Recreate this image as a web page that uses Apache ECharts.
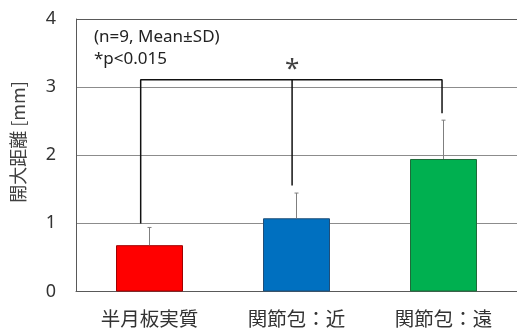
<!DOCTYPE html>
<html><head><meta charset="utf-8">
<script src="https://cdn.jsdelivr.net/npm/echarts@6/dist/echarts.min.js"></script>
<style>html,body{margin:0;padding:0;background:#fff}#c{width:517px;height:328px}</style>
</head><body><div id="c"></div>
<script>
const categories = ['半月板実質', '関節包：近', '関節包：遠'];
const means = [0.68, 1.075, 1.945];
const sds = [0.26, 0.37, 0.57];
const barColors = ['#FF0000', '#0070C0', '#00B050'];
const barBorders = ['#A00000', '#1F4E79', '#1E6B3A'];
const yTicks = [0, 1, 2, 3, 4];
// significance bracket (x in category units, y in mm)
const bracketLeft = [[-0.06, 0.997], [-0.06, 3.11], [1.99, 3.11], [1.99, 2.617]];
const bracketMid = [[0.97, 3.11], [0.97, 1.556]];
const starPos = [[0.97, 3.26]];
const notes = ['(n=9, Mean±SD)', '*p<0.015'];

const cjk = '"Noto Sans CJK JP", sans-serif';
const latin = '"Noto Sans", "Open Sans", sans-serif';
const chart = echarts.init(document.getElementById('c'), null, {renderer: 'canvas'});
chart.setOption({
  animation: false,
  grid: {left: 76, top: 19, bottom: 35, right: -13, containLabel: false},
  xAxis: [{
    type: 'category', data: categories,
    axisLine: {show: true, lineStyle: {color: '#595959', width: 1}},
    axisTick: {show: false},
    axisLabel: {fontSize: 19.5, color: '#333', fontFamily: cjk, margin: 17}
  }, {
    type: 'value', min: -0.5, max: 2.5, show: false
  }],
  yAxis: {
    type: 'value', min: yTicks[0], max: yTicks[yTicks.length - 1], interval: 1,
    axisLine: {show: true, onZero: false, lineStyle: {color: '#595959', width: 1}},
    axisTick: {show: false},
    axisLabel: {fontSize: 18, color: '#333', fontFamily: latin, margin: 20},
    splitLine: {lineStyle: {color: ['#8c8c8c', '#8c8c8c', '#8c8c8c', '#8c8c8c', '#595959'], width: 1}}
  },
  graphic: [
    {type: 'text', x: 18, y: 142, rotation: Math.PI / 2,
     style: {text: '開大距離 [mm]', font: '18px ' + cjk, fill: '#404040', align: 'center', verticalAlign: 'middle'}},
    {type: 'text', x: 94, y: 37,
     style: {text: notes[0], font: '17px ' + latin, fill: '#222', align: 'left', verticalAlign: 'middle'}},
    {type: 'text', x: 94, y: 59,
     style: {text: notes[1], font: '17px ' + latin, fill: '#222', align: 'left', verticalAlign: 'middle'}}
  ],
  series: [
    {
      type: 'bar', barWidth: 67,
      data: means.map((v, i) => ({value: v, itemStyle: {color: barColors[i], borderColor: barBorders[i], borderWidth: 1}}))
    },
    {
      type: 'custom', z: 3,
      data: means.map((v, i) => [i, v, v + sds[i]]),
      renderItem: function (params, api) {
        const lo = api.coord([api.value(0), api.value(1)]);
        const hi = api.coord([api.value(0), api.value(2)]);
        return {type: 'group', children: [
          {type: 'line', shape: {x1: lo[0], y1: lo[1], x2: hi[0], y2: hi[1]}, style: {stroke: '#7f7f7f', lineWidth: 1}},
          {type: 'line', shape: {x1: hi[0] - 2, y1: hi[1], x2: hi[0] + 2, y2: hi[1]}, style: {stroke: '#7f7f7f', lineWidth: 1}}
        ]};
      }
    },
    {
      type: 'line', xAxisIndex: 1, data: bracketLeft, symbol: 'none',
      lineStyle: {color: '#111', width: 1.5}, z: 4
    },
    {
      type: 'line', xAxisIndex: 1, data: bracketMid, symbol: 'none',
      lineStyle: {color: '#111', width: 1.5}, z: 4
    },
    {
      type: 'scatter', xAxisIndex: 1, data: starPos, symbolSize: 0, z: 5,
      label: {show: true, position: 'inside', formatter: '*', fontSize: 26, color: '#111', fontFamily: latin}
    }
  ]
});
</script></body></html>
